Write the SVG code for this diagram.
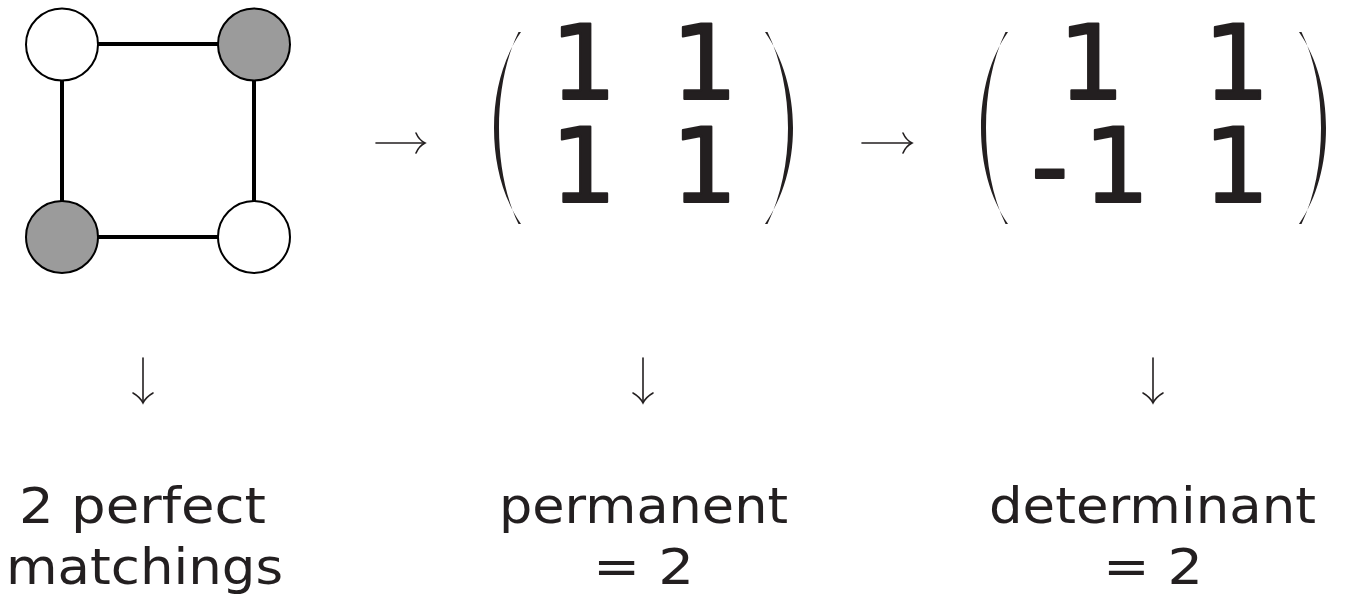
<svg xmlns="http://www.w3.org/2000/svg" width="1345" height="594" viewBox="0 0 1345 594">
<style>
.edge{stroke:#000;stroke-width:4;fill:none}
.node{stroke:#000;stroke-width:2}
.white{fill:#fff}
.gray{fill:#9b9b9b}
.arr{stroke:#231f20;stroke-width:1.6;fill:none;stroke-linecap:round}
.paren{fill:#231f20}
.num{font-family:"DejaVu Sans",sans-serif;font-size:104px;fill:#231f20;stroke:#231f20;stroke-width:2.2;stroke-linejoin:round}
.lbl{font-family:"DejaVu Sans",sans-serif;font-size:50px;fill:#231f20}
</style>
<rect width="1345" height="594" fill="#fff"/>
<g id="connectors">
<line class="edge" x1="62" y1="44" x2="254" y2="44"/>
<line class="edge" x1="62" y1="237" x2="254" y2="237"/>
<line class="edge" x1="62" y1="44" x2="62" y2="237"/>
<line class="edge" x1="254" y1="44" x2="254" y2="237"/>
<g id="arrow-right-1"><line class="arr" x1="376" y1="143" x2="424" y2="143"/><path class="arr" d="M416,133 Q419,140 425,143 Q419,146 416,153"/></g>
<g id="arrow-right-2"><line class="arr" x1="862" y1="143" x2="911" y2="143"/><path class="arr" d="M903,133 Q906,140 912,143 Q906,146 903,153"/></g>
<g id="arrow-down-1"><line class="arr" x1="143" y1="358" x2="143" y2="402"/><path class="arr" d="M133,393 Q140,397 143,403 Q146,397 153,393"/></g>
<g id="arrow-down-2"><line class="arr" x1="643" y1="358" x2="643" y2="402"/><path class="arr" d="M633,393 Q640,397 643,403 Q646,397 653,393"/></g>
<g id="arrow-down-3"><line class="arr" x1="1153" y1="358" x2="1153" y2="402"/><path class="arr" d="M1143,393 Q1150,397 1153,403 Q1156,397 1163,393"/></g>
</g>
<g id="node-tl"><circle class="node white" cx="62" cy="44.5" r="36"/></g>
<g id="node-tr"><circle class="node gray" cx="254" cy="44.5" r="36"/></g>
<g id="node-bl"><circle class="node gray" cx="62" cy="237" r="36"/></g>
<g id="node-br"><circle class="node white" cx="254" cy="237" r="36"/></g>
<g id="matrix-1">
<path class="paren" d="M521,32 C503,58 494,92 494,128 C494,164 503,198 521,224 L518.5,224 C505,196 499,162 499,128 C499,94 505,60 518.5,32 Z"/>
<path class="paren" d="M765,32 C783,58 793,92 793,128 C793,164 783,198 765,224 L767.5,224 C781,196 788,162 788,128 C788,94 781,60 767.5,32 Z"/>
<text class="num" x="550.6" y="99">1</text>
<text class="num" x="671.6" y="99">1</text>
<text class="num" x="550.6" y="202">1</text>
<text class="num" x="671.6" y="202">1</text>
</g>
<g id="matrix-2">
<path class="paren" d="M1008,32 C990,58 981,92 981,128 C981,164 990,198 1008,224 L1005.5,224 C992,196 986,162 986,128 C986,94 992,60 1005.5,32 Z"/>
<path class="paren" d="M1299,32 C1317,58 1326,92 1326,128 C1326,164 1317,198 1299,224 L1301.5,224 C1315,196 1321,162 1321,128 C1321,94 1315,60 1301.5,32 Z"/>
<text class="num" x="1058.6" y="99">1</text>
<text class="num" x="1203.6" y="99">1</text>
<text class="num" y="202"><tspan x="1031">-</tspan><tspan x="1083.6">1</tspan></text>
<text class="num" x="1203.6" y="202">1</text>
</g>
<g id="label-matchings">
<text class="lbl" x="19" y="523" textLength="247" lengthAdjust="spacingAndGlyphs">2 perfect</text>
<text class="lbl" x="6" y="584" textLength="277" lengthAdjust="spacingAndGlyphs">matchings</text>
</g>
<g id="label-permanent">
<text class="lbl" x="499" y="523" textLength="289" lengthAdjust="spacingAndGlyphs">permanent</text>
<text class="lbl" x="593" y="584" textLength="101" lengthAdjust="spacingAndGlyphs">= 2</text>
</g>
<g id="label-determinant">
<text class="lbl" x="989" y="523" textLength="327" lengthAdjust="spacingAndGlyphs">determinant</text>
<text class="lbl" x="1103" y="584" textLength="100" lengthAdjust="spacingAndGlyphs">= 2</text>
</g>
</svg>
